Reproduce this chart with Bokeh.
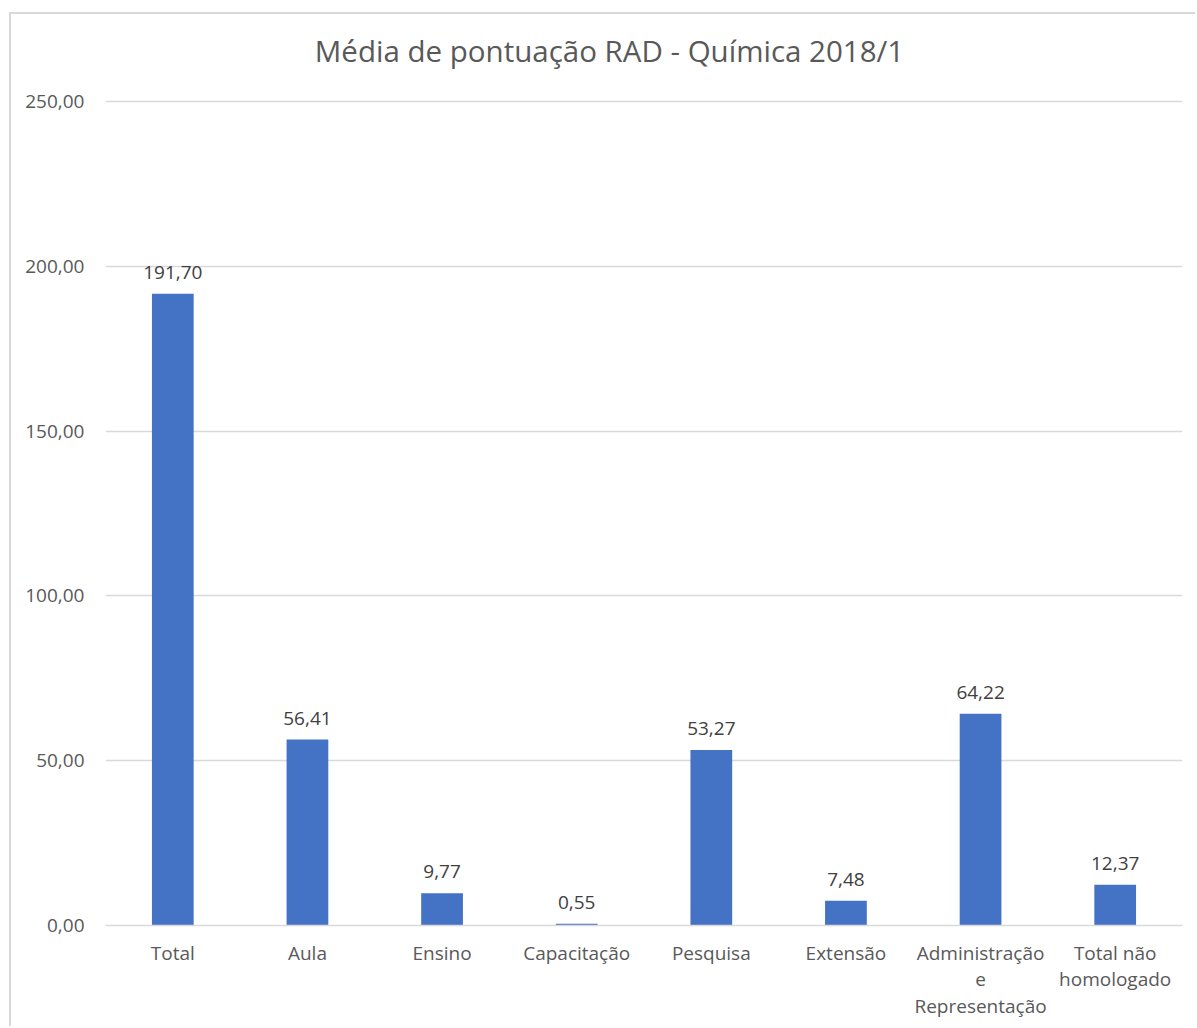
from bokeh.plotting import figure
from bokeh.models import ColumnDataSource, LabelSet, Label, CustomJSTickFormatter, InlineStyleSheet, FactorRange
from bokeh.core.properties import value
from bokeh.embed import file_html
from bokeh.resources import INLINE

categories = ["Total", "Aula", "Ensino", "Capacitação", "Pesquisa", "Extensão",
              "Administração\ne\nRepresentação", "Total não\nhomologado"]
values = [191.70, 56.41, 9.77, 0.55, 53.27, 7.48, 64.22, 12.37]
labels = [f"{v:.2f}".replace(".", ",") for v in values]
y_ticks = [0, 50, 100, 150, 200, 250]
title_text = "Média de pontuação RAD - Química 2018/1"

FONT = "Open Sans"
TXT = "#595959"

source = ColumnDataSource(dict(cat=categories, val=values, lab=labels))

# frame spans from the top of the chart box down to the 0 line; 250 gridline sits 87px below its top
Y_END = 250 * 911 / 824

p = figure(x_range=FactorRange(*categories), y_range=(0, Y_END), title=None,
           width=1186, height=1014, output_backend="svg", toolbar_location=None,
           min_border_left=94, min_border_right=15, min_border_top=0, min_border_bottom=103)
p.margin = (12, 0, 0, 9)
p.stylesheets = [InlineStyleSheet(css=":host { border-top: 2px solid #d9d9d9; border-left: 2px solid #d9d9d9; }")]
p.background_fill_color = "white"
p.border_fill_color = "white"
p.outline_line_color = None

p.vbar(x="cat", top="val", width=0.31, source=source, fill_color="#4472C4", line_color=None)

p.x_range.range_padding = 0
p.xgrid.grid_line_color = None
p.ygrid.grid_line_color = "#d9d9d9"
p.ygrid.grid_line_width = 1.5
p.yaxis.ticker = y_ticks
p.yaxis.formatter = CustomJSTickFormatter(code="return tick.toFixed(2).replace('.', ',');")
p.yaxis.axis_line_color = None
p.yaxis.major_tick_line_color = None
p.yaxis.minor_tick_line_color = None
p.yaxis.major_label_standoff = 15
p.yaxis.major_label_text_font = FONT
p.yaxis.major_label_text_font_size = "19px"
p.yaxis.major_label_text_color = TXT

p.xaxis.axis_line_color = "#d9d9d9"
p.xaxis.axis_line_width = 1.5
p.xaxis.major_tick_line_color = None
p.xaxis.minor_tick_line_color = None
p.xaxis.major_label_standoff = 8
p.xaxis.major_label_text_font = FONT
p.xaxis.major_label_text_font_size = "19px"
p.xaxis.major_label_text_color = TXT
p.xaxis.major_label_text_line_height = 1.03

labs = LabelSet(x="cat", y="val", text="lab", source=source, text_align="center",
                text_baseline="alphabetic", y_offset=15, text_font=value(FONT),
                text_font_size=value("19px"), text_color="#404040")
p.add_layout(labs)

title = Label(x=3.744, y=250 * 875 / 824, text=title_text, text_align="center",
              text_baseline="middle", text_font=FONT, text_font_size="29.5px",
              text_color=TXT)
p.add_layout(title)

open("out.html", "w").write(file_html(p, INLINE))
